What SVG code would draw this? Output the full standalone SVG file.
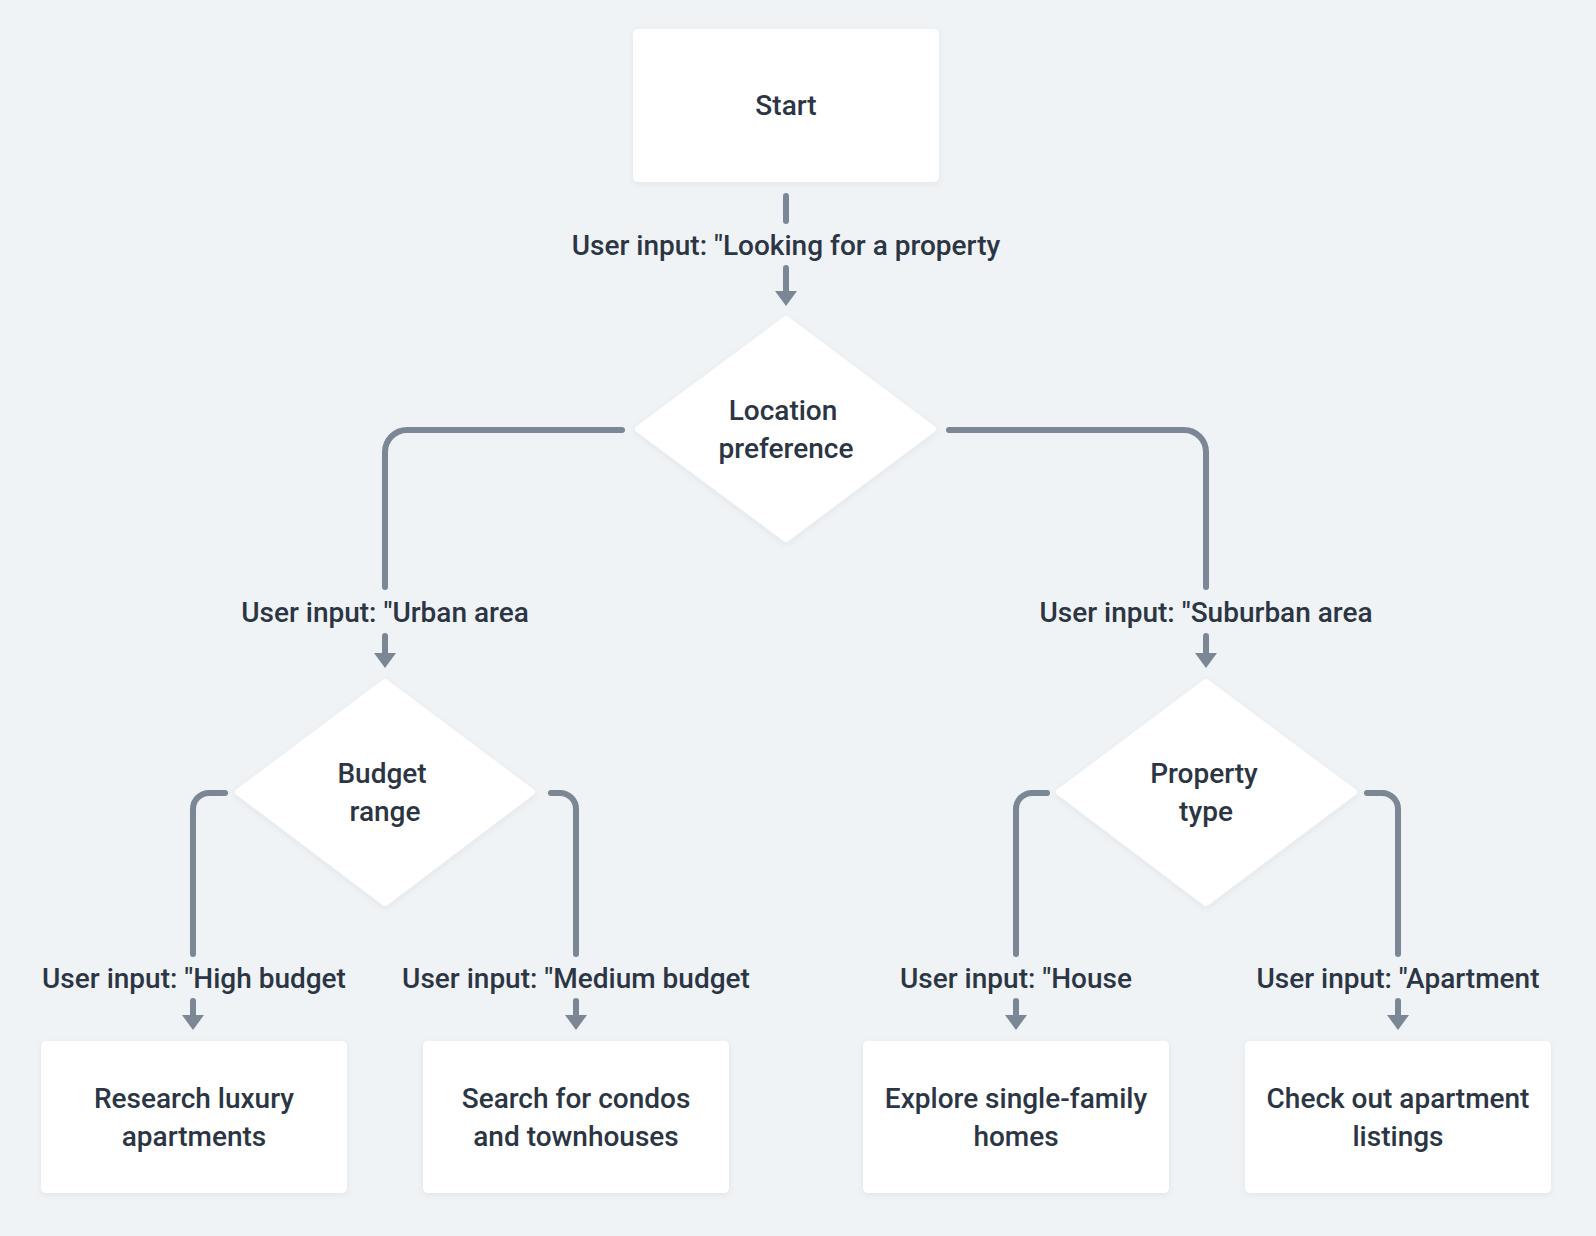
<svg xmlns="http://www.w3.org/2000/svg" width="1596" height="1236" viewBox="0 0 1596 1236">
  <style>
    .node { fill: #ffffff; filter: url(#sh); }
    .dia { fill: #ffffff; stroke: #ffffff; stroke-width: 6; stroke-linejoin: round; filter: url(#sh); }
    .t { font-family: Roboto, "Liberation Sans", sans-serif; font-size: 28px; font-weight: 500; fill: #2b3543; text-anchor: middle; }
    .c { fill: none; stroke: #7b8794; stroke-width: 6; stroke-linecap: round; stroke-linejoin: round; }
    .a { marker-end: url(#arr); }
  </style>
  <defs>
    <filter id="sh" x="-10%" y="-10%" width="120%" height="130%">
      <feDropShadow dx="0" dy="2" stdDeviation="3" flood-color="#1f2d3d" flood-opacity="0.06"/>
    </filter>
    <marker id="arr" markerUnits="userSpaceOnUse" markerWidth="15" markerHeight="22" refX="6" refY="11" orient="auto">
      <path d="M0,0 L15,11 L0,22 Z" fill="#7b8794"/>
    </marker>
  </defs>
  <rect width="1596" height="1236" fill="#eff3f6"/>

  <g id="connectors">
    <path class="c" d="M786 196 V221"/>
    <path class="c a" d="M786 268 V297"/>
    <path class="c" d="M622 430 H407 A22 22 0 0 0 385 452 V587"/>
    <path class="c a" d="M385 636 V659"/>
    <path class="c" d="M949 430 H1184 A22 22 0 0 1 1206 452 V587"/>
    <path class="c a" d="M1206 636 V659"/>
    <path class="c" d="M225 793 H209 A16 16 0 0 0 193 809 V954"/>
    <path class="c a" d="M193 1001 V1021"/>
    <path class="c" d="M551 793 H560 A16 16 0 0 1 576 809 V954"/>
    <path class="c a" d="M576 1001 V1021"/>
    <path class="c" d="M1047 793 H1032 A16 16 0 0 0 1016 809 V954"/>
    <path class="c a" d="M1016 1001 V1021"/>
    <path class="c" d="M1367 793 H1382 A16 16 0 0 1 1398 809 V954"/>
    <path class="c a" d="M1398 1001 V1021"/>
    <g id="edge-labels">
      <text class="t" x="786" y="255">User input: "Looking for a property</text>
      <text class="t" x="385" y="622">User input: "Urban area</text>
      <text class="t" x="1206" y="622">User input: "Suburban area</text>
      <text class="t" x="194" y="988">User input: "High budget</text>
      <text class="t" x="576" y="988">User input: "Medium budget</text>
      <text class="t" x="1016" y="988">User input: "House</text>
      <text class="t" x="1398" y="988">User input: "Apartment</text>
    </g>
  </g>

  <g id="start">
    <rect class="node" x="633" y="29" width="306" height="153" rx="5"/>
    <text class="t" x="786" y="115">Start</text>
  </g>

  <g id="location">
    <polygon class="dia" points="786,319 933,429 786,539 638,429"/>
    <text class="t" x="783" y="420">Location</text>
    <text class="t" x="786" y="458">preference</text>
  </g>

  <g id="budget">
    <polygon class="dia" points="385,682 532,792 385,903 238,792"/>
    <text class="t" x="382" y="783">Budget</text>
    <text class="t" x="385" y="821">range</text>
  </g>

  <g id="ptype">
    <polygon class="dia" points="1206,682 1354,792 1206,903 1059,792"/>
    <text class="t" x="1204" y="783">Property</text>
    <text class="t" x="1206" y="821">type</text>
  </g>

  <g id="luxury">
    <rect class="node" x="41" y="1041" width="306" height="152" rx="5"/>
    <text class="t" x="194" y="1108">Research luxury</text>
    <text class="t" x="194" y="1146">apartments</text>
  </g>

  <g id="condos">
    <rect class="node" x="423" y="1041" width="306" height="152" rx="5"/>
    <text class="t" x="576" y="1108">Search for condos</text>
    <text class="t" x="576" y="1146">and townhouses</text>
  </g>

  <g id="homes">
    <rect class="node" x="863" y="1041" width="306" height="152" rx="5"/>
    <text class="t" x="1016" y="1108">Explore single-family</text>
    <text class="t" x="1016" y="1146">homes</text>
  </g>

  <g id="apartments">
    <rect class="node" x="1245" y="1041" width="306" height="152" rx="5"/>
    <text class="t" x="1398" y="1108">Check out apartment</text>
    <text class="t" x="1398" y="1146">listings</text>
  </g>
</svg>
